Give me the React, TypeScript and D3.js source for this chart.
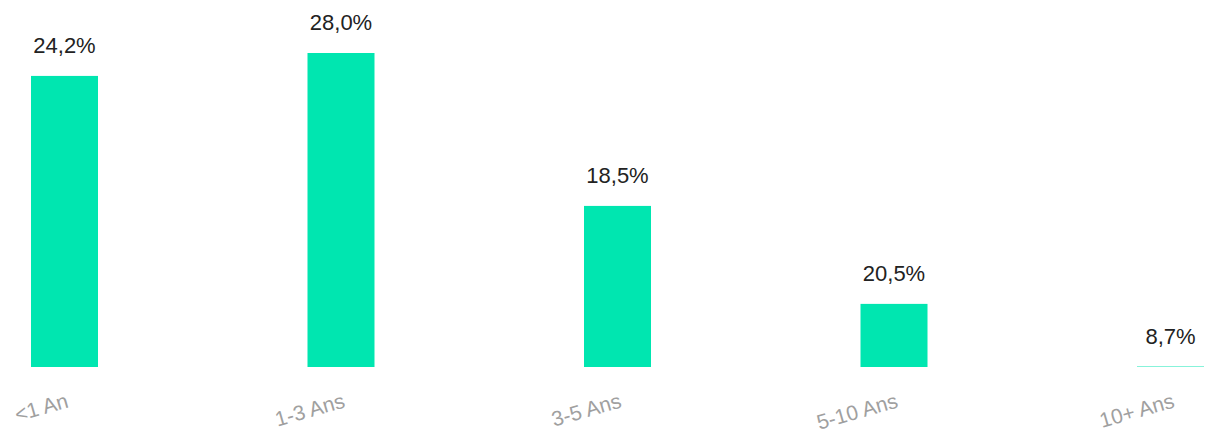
import React from "react";
import * as d3 from "d3";

const categories = ["<1 An", "1-3 Ans", "3-5 Ans", "5-10 Ans", "10+ Ans"];
const labels = ["24,2%", "28,0%", "18,5%", "20,5%", "8,7%"];
const barValues = [92.7, 100, 51.3, 20.1, 0.15];

const W = 1207;
const H = 432;

export default function App() {
  const x = d3
    .scaleBand<string>()
    .domain(categories)
    .range([31, 1204])
    .paddingInner(0.7577)
    .paddingOuter(0);
  const y = d3.scaleLinear().domain([0, 100]).range([367, 53]);
  const bw = x.bandwidth();
  return (
    <svg
      width={W}
      height={H}
      style={{ position: "absolute", left: 0, top: 0, display: "block" }}
      fontFamily="'Liberation Sans', Arial, sans-serif"
    >
      <rect width={W} height={H} fill="#fff" />
      {categories.map((c, i) => {
        const x0 = x(c) as number;
        const cx = x0 + bw / 2;
        const top = y(barValues[i]);
        return (
          <g key={c}>
            <rect
              x={x0}
              y={top}
              width={bw}
              height={Math.max(y(0) - top, 0)}
              fill="#00e6b0"
            />
            <text
              x={cx}
              y={top - 23}
              textAnchor="middle"
              fontSize={22}
              fill="#222"
            >
              {labels[i]}
            </text>
            <text
              transform={`translate(${cx + 5},${407}) rotate(-16)`}
              textAnchor="end"
              fontSize={21}
              fill="#a0a0a0"
            >
              {c}
            </text>
          </g>
        );
      })}
    </svg>
  );
}
